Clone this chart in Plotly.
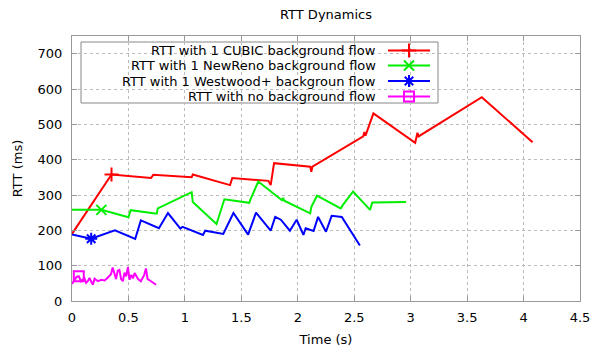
import plotly.graph_objects as go

# ---- data ----
red_t = [0, 0.35, 0.70, 0.72, 1.06, 1.07, 1.40, 1.42, 1.74, 1.76, 1.79, 2.11, 2.12, 2.13,
         2.58, 2.59, 2.60, 2.67, 3.04, 3.06, 3.07, 3.63, 4.08]
red_v = [190, 358, 348, 357, 350, 358, 328, 348, 340, 328, 390, 380, 366, 380,
         466, 478, 468, 531, 448, 476, 466, 577, 449]

green_t = [0, 0.26, 0.50, 0.52, 0.75, 0.76, 1.06, 1.07, 1.28, 1.35, 1.57, 1.58, 1.65,
           1.86, 1.87, 1.88, 2.11, 2.12, 2.17, 2.38, 2.40, 2.49, 2.64, 2.66, 2.96]
green_v = [258, 258, 237, 257, 247, 262, 308, 280, 218, 288, 278, 287, 338,
           285, 292, 284, 248, 266, 298, 262, 272, 310, 258, 279, 280]

blue_t = [0, 0.17, 0.38, 0.56, 0.61, 0.77, 0.85, 0.96, 0.98, 1.16, 1.18, 1.34, 1.43, 1.56,
          1.63, 1.76, 1.80, 1.85, 1.93, 1.99, 2.05, 2.07, 2.14, 2.18, 2.25, 2.30, 2.39, 2.55]
blue_v = [188, 176, 200, 176, 228, 206, 249, 205, 210, 187, 199, 190, 249, 188,
          250, 199, 238, 230, 199, 230, 187, 206, 198, 238, 196, 241, 238, 157]

mag_t = [0, 0.04, 0.06, 0.08, 0.11, 0.125, 0.14, 0.155, 0.17, 0.185, 0.2, 0.23, 0.26,
         0.29, 0.32, 0.345, 0.36, 0.375, 0.39, 0.405, 0.42, 0.435, 0.45, 0.465, 0.48,
         0.495, 0.51, 0.525, 0.54, 0.555, 0.57, 0.585, 0.61, 0.64, 0.655, 0.67, 0.70, 0.745]
mag_v = [48, 68, 70, 56, 65, 51, 56, 65, 55, 46, 63, 56, 60,
         58, 67, 76, 95, 76, 62, 86, 88, 62, 56, 80, 70,
         96, 60, 74, 64, 79, 70, 62, 56, 74, 92, 62, 56, 46]

names = ["RTT with 1 CUBIC background flow",
         "RTT with 1 NewReno background flow",
         "RTT with 1 Westwood+ backgroun flow",
         "RTT with no background flow"]
colors = ["#ff0000", "#00ee00", "#0000ff", "#ff00ff"]
symbols = ["cross-thin-open", "x-thin-open", "asterisk-open", "square-open"]
marker_idx = [1, 1, 1, 2]
series = [(red_t, red_v), (green_t, green_v), (blue_t, blue_v), (mag_t, mag_v)]

FONT = "DejaVu Sans"
fig = go.Figure()

for (t, v), c, s, mi in zip(series, colors, symbols, marker_idx):
    fig.add_trace(go.Scatter(x=t, y=v, mode="lines", line=dict(color=c, width=2),
                             showlegend=False, hoverinfo="skip"))
    fig.add_trace(go.Scatter(x=[t[mi]], y=[v[mi]], mode="markers",
                             marker=dict(symbol=s, size=10, color=c,
                                         line=dict(color=c, width=2)),
                             showlegend=False, hoverinfo="skip"))

# ---- custom legend (text right-aligned, sample on the right) ----
W, H = 508.0, 265.0
def px_x(p):
    return (p - 72.0) / W
def px_y(p):
    return (301.0 - p) / H

leg_rows = [50.5, 65.5, 81.0, 96.5]
sx0, sx1 = px_x(388), px_x(430)
for name, c, s, ry in zip(names, colors, symbols, leg_rows):
    yy = px_y(ry)
    fig.add_trace(go.Scatter(x=[sx0, sx1], y=[yy, yy], mode="lines",
                             line=dict(color=c, width=2), xaxis="x2", yaxis="y2",
                             showlegend=False, hoverinfo="skip"))
    fig.add_trace(go.Scatter(x=[(sx0 + sx1) / 2], y=[yy], mode="markers",
                             marker=dict(symbol=s, size=10, color=c,
                                         line=dict(color=c, width=2)),
                             xaxis="x2", yaxis="y2", showlegend=False, hoverinfo="skip"))
    fig.add_annotation(x=px_x(378), y=yy, xref="paper", yref="paper", text=name,
                       showarrow=False, xanchor="right", yanchor="middle",
                       font=dict(family=FONT, size=13, color="#000"))

fig.add_shape(type="rect", xref="x domain", yref="y domain",
              x0=px_x(81), x1=px_x(438), y0=px_y(103), y1=px_y(42),
              line=dict(color="#888", width=1), fillcolor="white", layer="below")

axis_common = dict(showline=True, linecolor="#999", linewidth=1, mirror="ticks",
                   ticks="inside", ticklen=5, tickcolor="#999", automargin=False,
                   showgrid=True, gridcolor="#bbb", griddash="dot", gridwidth=1,
                   zeroline=False, tickfont=dict(family=FONT, size=13, color="#000"))

fig.update_layout(
    width=593, height=352,
    margin=dict(l=72, r=13, t=36, b=51),
    plot_bgcolor="white", paper_bgcolor="white",
    font=dict(family=FONT, size=13, color="#000"),
    title=dict(text="RTT Dynamics", x=0.5, xref="paper", xanchor="center",
               y=1 - 14 / 352, yref="container", yanchor="middle",
               font=dict(family=FONT, size=13, color="#000")),
    xaxis=dict(range=[0, 4.5], dtick=0.5, tick0=0,
               title=dict(text="Time (s)", standoff=11, font=dict(family=FONT, size=13)),
               ticklabelstandoff=4, **axis_common),
    yaxis=dict(range=[0, 750], dtick=100, tick0=0,
               title=dict(text="RTT (ms)", standoff=12, font=dict(family=FONT, size=13)),
               ticklabelstandoff=6, **axis_common),
    xaxis2=dict(overlaying="x", range=[0, 1], visible=False),
    yaxis2=dict(overlaying="y", range=[0, 1], visible=False),
    showlegend=False,
)

fig.write_html("out.html")
